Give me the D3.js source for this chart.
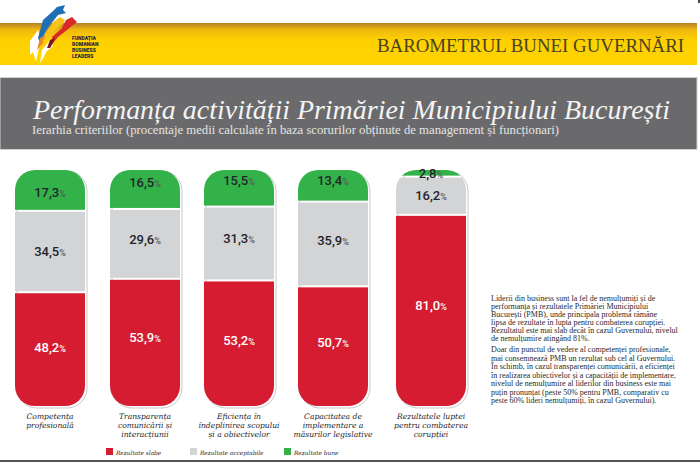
<!DOCTYPE html>
<html lang="ro">

<head>
    <meta charset="utf-8">
    <script src="https://d3js.org/d3.v7.min.js"></script>
    <style>
        html, body { margin: 0; padding: 0; background: #fff; overflow: hidden; }
        svg { display: block; }
    </style>
</head>

<body>
    <script>
        const categories = [
            ['Competența', 'profesională'],
            ['Transparența', 'comunicării și', 'interacțiunii'],
            ['Eficiența în', 'îndeplinirea scopului', 'și a obiectivelor'],
            ['Capacitatea de', 'implementare a', 'măsurilor legislative'],
            ['Rezultatele luptei', 'pentru combaterea', 'corupției']
        ];
        const seriesNames = ['Rezultate slabe', 'Rezultate acceptabile', 'Rezultate bune'];
        const slabe = [48.2, 53.9, 53.2, 50.7, 81.0];
        const acceptabile = [34.5, 29.6, 31.3, 35.9, 16.2];
        const bune = [17.3, 16.5, 15.5, 13.4, 2.8];

        const bodyText = [
            'Liderii din business sunt la fel de nemulțumiți și de',
            'performanța și rezultatele Primăriei Municipiului',
            'București (PMB), unde principala problemă rămâne',
            'lipsa de rezultate în lupta pentru combaterea corupției.',
            'Rezultatul este mai slab decât în cazul Guvernului, nivelul',
            'de nemulțumire atingând 81%.',
            'Doar din punctul de vedere al competenței profesionale,',
            'mai consemnează PMB un rezultat sub cel al Guvernului.',
            'În schimb, în cazul transparenței comunicării, a eficienței',
            'în realizarea obiectivelor și a capacității de implementare,',
            'nivelul de nemulțumire al liderilor din business este mai',
            'puțin pronunțat (peste 50% pentru PMB, comparativ cu',
            'peste 60% lideri nemulțumiți, în cazul Guvernului).'
        ];

        const width = 700, height = 462;
        const colors = ['#d51c30', '#d3d4d6', '#33b249'];
        const serif = '"Liberation Serif", serif';
        const slab = '"DejaVu Serif", serif';

        const svg = d3.select('body').append('svg')
            .attr('width', width)
            .attr('height', height);

        const defs = svg.append('defs');
        const grad = defs.append('linearGradient')
            .attr('id', 'band')
            .attr('x1', 0).attr('x2', 0).attr('y1', 0).attr('y2', 1);
        grad.append('stop').attr('offset', '0%').attr('stop-color', '#b5812a');
        grad.append('stop').attr('offset', '16%').attr('stop-color', '#efb80f');
        grad.append('stop').attr('offset', '40%').attr('stop-color', '#fed000');
        grad.append('stop').attr('offset', '100%').attr('stop-color', '#fed400');

        // header bands
        svg.append('rect').attr('x', 0).attr('y', 23).attr('width', 697).attr('height', 42).attr('fill', 'url(#band)');
        svg.append('rect').attr('x', 0).attr('y', 77.5).attr('width', 697).attr('height', 72)
            .attr('fill', '#6a6a6c').attr('stroke', '#cfcfd1').attr('stroke-width', 1);
        svg.append('rect').attr('x', 698).attr('y', 0).attr('width', 2).attr('height', 3).attr('fill', '#444');

        svg.append('text')
            .attr('x', 377).attr('y', 52)
            .attr('textLength', 307).attr('lengthAdjust', 'spacingAndGlyphs')
            .attr('font-family', serif).attr('font-size', 19)
            .attr('fill', '#4a4322')
            .text('BAROMETRUL BUNEI GUVERNĂRI');

        svg.append('text')
            .attr('x', 33).attr('y', 119)
            .attr('textLength', 637).attr('lengthAdjust', 'spacingAndGlyphs')
            .attr('font-family', serif).attr('font-style', 'italic').attr('font-size', 28)
            .attr('fill', '#f4f4f4')
            .text('Performanța activității Primăriei Municipiului București');

        svg.append('text')
            .attr('x', 32).attr('y', 134)
            .attr('textLength', 527).attr('lengthAdjust', 'spacingAndGlyphs')
            .attr('font-family', serif).attr('font-size', 12)
            .attr('fill', '#e4e4e4')
            .text('Ierarhia criteriilor (procentaje medii calculate în baza scorurilor obținute de management și funcționari)');

        // logo, hand drawn streaks
        const logo = svg.append('g');
        const logoShapes = [
            ['#ffffff', '30,41 38,30 41,40 38,52 36,62 33,52 30,55'],
            ['#ffffff', '40,63 42,50 50,40 53,46 46,52 44,57'],
            ['#1f6fb5', '38,38 43,20 52,12 57,7 65,5 63,10 66,13 58,15 50,25 45,33 40,42'],
            ['#e8882a', '37,50 40,38 46,35 43,43'],
            ['#f6c21c', '42,42 53,22 60,17 65,20 63,24 57,28 50,37 45,40'],
            ['#d92a2a', '52,37 62,28 66,20 72,17 77,22 73,25 67,30 58,37 53,43'],
            ['#7a1820', '47,48 50,40 55,38 53,43 50,48']
        ];
        logo.selectAll('polygon')
            .data(logoShapes)
            .enter()
            .append('polygon')
            .attr('fill', d => d[0])
            .attr('points', d => d[1]);
        logo.selectAll('text')
            .data(['FUNDAȚIA', 'ROMANIAN', 'BUSINESS', 'LEADERS'])
            .enter()
            .append('text')
            .attr('x', 72)
            .attr('y', (d, i) => 40 + i * 6.1)
            .attr('font-family', 'Roboto, sans-serif').attr('font-weight', 900).attr('font-size', 5)
            .attr('fill', '#2b2340')
            .text(d => d);

        // bars
        const rows = categories.map((c, i) => ({ i: i, slabe: slabe[i], acceptabile: acceptabile[i], bune: bune[i] }));
        const stacked = d3.stack().keys(['slabe', 'acceptabile', 'bune'])(rows);

        // the last column sits a little further right in the original
        const xScale = d3.scaleOrdinal().domain(d3.range(categories.length)).range([15, 110, 204, 298, 396]);
        const barWidth = 70;
        const yScale = d3.scaleLinear().domain([0, 100]).range([406, 170]);
        const corner = 20;

        const plot = svg.append('g');

        rows.forEach(d => {
            defs.append('clipPath').attr('id', 'clip' + d.i)
                .append('rect')
                .attr('x', xScale(d.i)).attr('y', yScale(100))
                .attr('width', barWidth).attr('height', yScale(0) - yScale(100))
                .attr('rx', corner);
            // thin outline that peeks out right and below
            plot.append('rect')
                .attr('x', xScale(d.i) + 2).attr('y', yScale(100) + 1)
                .attr('width', barWidth).attr('height', yScale(0) - yScale(100) + 1)
                .attr('rx', corner)
                .attr('fill', '#fff').attr('stroke', '#c9c9cb').attr('stroke-width', 1);
        });

        stacked.forEach((layer, s) => {
            plot.append('g').selectAll('rect')
                .data(layer)
                .enter()
                .append('rect')
                .attr('clip-path', (d, i) => 'url(#clip' + i + ')')
                .attr('x', (d, i) => xScale(i))
                .attr('width', barWidth)
                .attr('y', d => yScale(d[1]) + (s < 2 ? 1 : 0))
                .attr('height', d => yScale(d[0]) - yScale(d[1]) - (s === 2 ? 1 : (s === 1 ? 2 : 1)))
                .attr('fill', colors[s]);
        });

        // labels are set a bit above the segment centre in the original
        const labelNudge = [
            [-2, -5, -3, -4, -5],
            [0, -4, -5, -3, 0],
            [2, -7, -8, -5, 0]
        ];
        stacked.forEach((layer, s) => {
            const lab = plot.append('g').selectAll('text')
                .data(layer)
                .enter()
                .append('text')
                .attr('x', (d, i) => xScale(i) + barWidth / 2)
                .attr('y', (d, i) => yScale((d[0] + d[1]) / 2) + labelNudge[s][i] + 4.5)
                .attr('text-anchor', 'middle')
                .attr('font-family', 'Roboto, sans-serif').attr('font-weight', 500).attr('font-size', 13)
                .attr('fill', s === 0 ? '#fff' : '#23252b');
            lab.append('tspan').text(d => (d[1] - d[0]).toFixed(1).replace('.', ','));
            lab.append('tspan')
                .attr('font-size', 9)
                .attr('fill', s === 0 ? '#fff' : '#55575c')
                .text('%');
        });

        // category names
        const catGroup = svg.append('g').selectAll('text')
            .data(categories)
            .enter()
            .append('text')
            .attr('text-anchor', 'middle')
            .attr('font-family', slab).attr('font-style', 'italic').attr('font-size', 7.6)
            .attr('fill', '#25262b');
        catGroup.selectAll('tspan')
            .data((d, i) => d.map(line => ({ line: line, i: i })))
            .enter()
            .append('tspan')
            .attr('x', d => xScale(d.i) + barWidth / 2)
            .attr('y', (d, i) => 419 + i * 9)
            .text(d => d.line);

        // legend
        const legendSwatch = [106, 190, 284];
        const legend = svg.append('g').selectAll('g')
            .data(seriesNames)
            .enter()
            .append('g')
            .attr('transform', (d, i) => 'translate(' + legendSwatch[i] + ',448)');
        legend.append('rect')
            .attr('width', 7).attr('height', 7)
            .attr('fill', (d, i) => colors[i]);
        legend.append('text')
            .attr('x', 10).attr('y', 6.5)
            .attr('font-family', slab).attr('font-style', 'italic').attr('font-size', 5.8)
            .attr('fill', '#25262b')
            .text(d => d);

        // side text, two paragraphs with slightly different leading
        const paraOne = d3.scaleLinear().domain([0, 5]).range([300.5, 341]);
        const paraTwo = d3.scaleLinear().domain([6, 12]).range([352, 403]);
        svg.append('g').selectAll('text')
            .data(bodyText)
            .enter()
            .append('text')
            .attr('x', 491)
            .attr('y', (d, i) => i > 5 ? paraTwo(i) : paraOne(i))
            .attr('font-family', serif).attr('font-size', 8)
            .attr('fill', '#2a2a2a')
            .text(d => d);

        svg.append('rect').attr('x', 0).attr('y', 460).attr('width', width).attr('height', 2).attr('fill', '#555');
    </script>

</body>

</html>
